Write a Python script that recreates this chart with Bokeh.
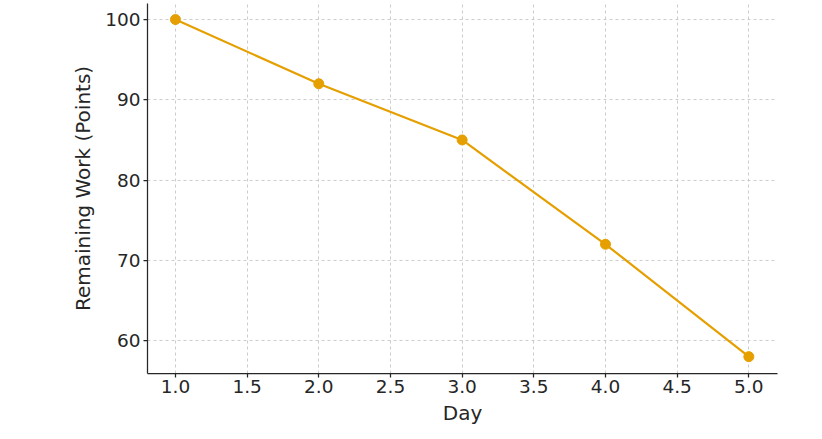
from bokeh.plotting import figure
from bokeh.embed import file_html
from bokeh.resources import INLINE
from bokeh.models import Range1d, FixedTicker, CustomJSTickFormatter

days = [1, 2, 3, 4, 5]
remaining = [100, 92, 85, 72, 58]
x_ticks = [1.0, 1.5, 2.0, 2.5, 3.0, 3.5, 4.0, 4.5, 5.0]
y_ticks = [60, 70, 80, 90, 100]

FONT = "DejaVu Sans"
TXT = "#262626"
COLOR = "#E69F00"

p = figure(width=822, height=439, frame_width=630, frame_height=370,
           output_backend="svg", toolbar_location=None,
           x_range=Range1d(0.805, 5.2), y_range=Range1d(55.9, 102.0),
           min_border_left=147, min_border_right=45, min_border_top=3, min_border_bottom=66)
p.outline_line_color = None
p.background_fill_color = "white"
p.border_fill_color = "white"

p.line(days, remaining, line_color=COLOR, line_width=2.2)
p.scatter(days, remaining, size=10, fill_color=COLOR, line_color=COLOR)

for ax, ticks in ((p.xaxis, x_ticks), (p.yaxis, y_ticks)):
    ax.ticker = FixedTicker(ticks=ticks)
    ax.axis_line_color = TXT
    ax.axis_line_width = 1.25
    ax.major_tick_line_color = TXT
    ax.major_tick_line_width = 1.25
    ax.major_tick_in = 0
    ax.major_tick_out = 4
    ax.minor_tick_line_color = None
    ax.major_label_text_font = FONT
    ax.major_label_text_font_size = "18.5px"
    ax.major_label_text_color = TXT
    ax.axis_label_text_font = FONT
    ax.axis_label_text_font_size = "20px"
    ax.axis_label_text_font_style = "normal"
    ax.axis_label_text_color = TXT

p.xaxis.major_label_standoff = 2
p.yaxis.major_label_standoff = 3
p.xaxis.formatter = CustomJSTickFormatter(code="return tick.toFixed(1);")
p.xaxis.axis_label = "Day"
p.yaxis.axis_label = "Remaining Work (Points)"
p.xaxis.axis_label_standoff = 5
p.yaxis.axis_label_standoff = 7

for g in (p.xgrid, p.ygrid):
    g.grid_line_color = "#c6c6c6"
    g.grid_line_dash = "3 3"
    g.grid_line_width = 0.9

open("out.html", "w").write(file_html(p, INLINE))
